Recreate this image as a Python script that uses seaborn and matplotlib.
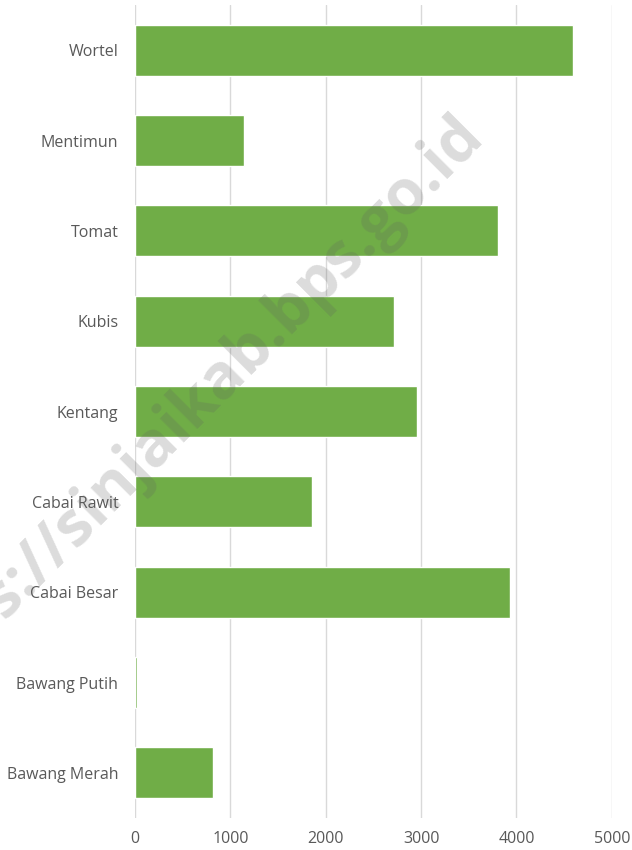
import matplotlib
matplotlib.use('Agg')
import matplotlib.pyplot as plt
import pandas as pd
import seaborn as sns

# produksi sayuran
komoditas = ['Wortel', 'Mentimun', 'Tomat', 'Kubis', 'Kentang',
             'Cabai Rawit', 'Cabai Besar', 'Bawang Putih', 'Bawang Merah']
produksi = [4590, 1145, 3810, 2720, 2960, 1860, 3930, 20, 820]
xticks = [0, 1000, 2000, 3000, 4000, 5000]

df = pd.DataFrame({'komoditas': komoditas, 'produksi': produksi})

sns.set_style('white')
plt.rcParams['font.family'] = ['Open Sans', 'DejaVu Sans']

fig, ax = plt.subplots(figsize=(6.32, 8.5), dpi=100)
fig.subplots_adjust(left=0.2136, right=0.968, top=0.994, bottom=0.0376)

sns.barplot(data=df, x='produksi', y='komoditas', color='#70ad47',
            saturation=1, width=0.565, ax=ax, zorder=3)

ax.set_xlim(0, 5000)
ax.set_xticks(xticks)
ax.set_ylim(len(komoditas) - 0.5, -0.5)
ax.grid(axis='x', color='#d9d9d9', linewidth=1, zorder=0)
ax.grid(axis='y', visible=False)
for s in ax.spines.values():
    s.set_visible(False)
ax.tick_params(axis='both', length=0, labelsize=11.5, colors='#595959')
ax.tick_params(axis='x', pad=9)
ax.tick_params(axis='y', pad=12)
ax.set_xlabel('')
ax.set_ylabel('')

# watermark
fig.text(0.749, 0.852, 'https://sinjaikab.bps.go.id', fontsize=45,
         fontweight='bold', color='#606060', alpha=0.22, rotation=45,
         ha='right', va='center', rotation_mode='anchor', zorder=10)

fig.savefig('out.png', dpi=100)
